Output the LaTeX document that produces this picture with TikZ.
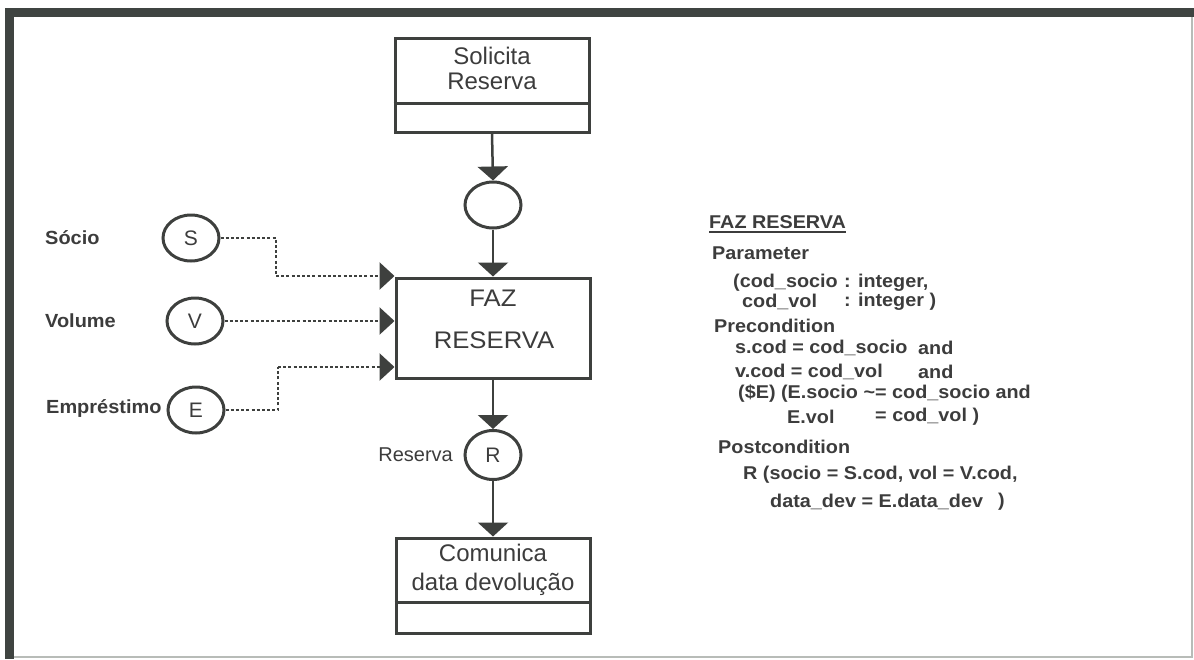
\documentclass[tikz,border=0pt]{standalone}
\usepackage{fontspec}
\setmainfont{Liberation Sans}
\newfontfamily\wideface[FakeStretch=1.05]{Liberation Sans}
\newfontfamily\broadface[FakeStretch=1.07]{Liberation Sans}
\usetikzlibrary{shapes.geometric,arrows.meta,calc}
\definecolor{ink}{HTML}{3E403E}
\definecolor{txt}{HTML}{3C3C3C}
\definecolor{rim}{HTML}{3F4441}
\definecolor{edge}{HTML}{B8BCB8}
\tikzset{
  box/.style={draw=ink,line width=3pt,minimum width=194pt,inner sep=0pt},
  boxtxt/.style={text=txt,align=center,inner sep=0pt,font=\fontsize{24}{25}\selectfont},
  circ/.style={ellipse,draw=ink,line width=3pt,minimum width=56pt,minimum height=46pt,inner sep=0pt,text=txt,font=\fontsize{21}{21}\selectfont},
  flow/.style={draw=ink,line width=2.5pt,-{Triangle[length=14pt,width=30pt]}},
  feed/.style={draw=ink,line width=2.5pt,dash pattern=on 3pt off 2.2pt,-{Triangle[length=15pt,width=27pt]}},
  feedline/.style={draw=ink,line width=2.5pt,dash pattern=on 3pt off 2.2pt},
  lbl/.style={text=txt,inner sep=0pt,font=\wideface\bfseries\fontsize{19}{19}\selectfont},
  spec/.style={text=txt,inner sep=0pt,anchor=west,font=\broadface\bfseries\fontsize{18.5}{19}\selectfont}
}
\begin{document}
\begin{tikzpicture}[x=1pt,y=-1pt]
\useasboundingbox (0,0) rectangle (1194,659);

% page frame
\fill[rim] (5,8) rectangle (1194,17);
\fill[rim] (5,8) rectangle (14,659);
\draw[edge,line width=1.2pt] (1192,17) -- (1192,657) -- (14,657);

% process boxes
\node[box,minimum height=94pt] (sol) at (492,85) {};
\draw[ink,line width=3pt] (sol.west |- 0,103) -- (sol.east |- 0,103);
\node[boxtxt] (soltxt) at (492,68) {Solicita\\Reserva};

\node[box,minimum height=100pt] (faz) at (493,328) {};
\node[boxtxt,font=\broadface\fontsize{24}{25}\selectfont] (faztxt1) at (493,298) {FAZ};
\node[boxtxt,font=\broadface\fontsize{24}{25}\selectfont] (faztxt2) at (494,340) {RESERVA};

\node[box,minimum height=95pt] (com) at (493,585.5) {};
\draw[ink,line width=3pt] (com.west |- 0,602) -- (com.east |- 0,602);
\node[boxtxt,font=\fontsize{24}{29}\selectfont] (comtxt) at (493,570) {Comunica\\data devolução};

% data stores
\node[circ] (c0) at (493,205) {};
\node[circ] (S) at (191,238) {S};
\node[circ] (V) at (195,321) {V};
\node[circ] (E) at (196,410) {E};
\node[circ,minimum height=49pt] (R) at (493,455) {R};

\node[lbl,anchor=west] (ls) at (45,238) {Sócio};
\node[lbl,anchor=west] (lv) at (45,321) {Volume};
\node[lbl,anchor=west] (le) at (46,408) {Empréstimo};
\node[text=txt,inner sep=0pt,anchor=east,font=\fontsize{20}{20}\selectfont] (lr) at (453,455) {Reserva};

% control flow
\draw[flow] (sol.south) -- (c0.north);
\draw[flow] (c0.south) -- (faz.north);
\draw[flow] (faz.south) -- (R.north);
\draw[flow] (R.south) -- (com.north);

% data inputs
\coordinate (sb) at (276,276);
\coordinate (eb) at (278,367);
\draw[feedline] (S.east) -| (sb);
\draw[feed] (sb) -- (faz.west |- sb);
\draw[feed] (V.east) -- (faz.west |- V.east);
\draw[feedline] (E.east) -| (eb);
\draw[feed] (eb) -- (faz.west |- eb);

% specification
\node[spec] (h) at (709,222) {FAZ RESERVA};
\draw[txt,line width=1.5pt] (h.south west) ++(0,3) -- ($(h.south east)+(0,3)$);
\node[spec] (p1) at (712,253) {Parameter};
\node[spec] (p2) at (733,283) {(cod\_socio};
\node[spec] (p2b) at ($(p2.east)+(6,0)$) {: integer,};
\node[spec] (p3) at (742,302) {cod\_vol};
\node[spec] (p3b) at (p2b.west |- p3.west) {: integer )};
\node[spec] (q0) at (714,326) {Precondition};
\node[spec] (q1) at (735,348) {s.cod = cod\_socio};
\node[spec] (q1b) at (918,348) {and};
\node[spec] (q2) at (735,372) {v.cod = cod\_vol};
\node[spec] (q2b) at (918,372) {and};
\node[spec] (q3) at (738,394) {(\$E) (E.socio \textasciitilde= cod\_socio and};
\node[spec] (q4) at (787,417) {E.vol};
\node[spec] (q4b) at (875,417) {= cod\_vol )};
\node[spec] (r0) at (718,447) {Postcondition};
\node[spec] (r1) at (743,475) {R (socio = S.cod, vol = V.cod,};
\node[spec] (r2) at (770,502) {data\_dev = E.data\_dev};
\node[spec] (r2b) at (998,502) {)};
\end{tikzpicture}
\end{document}
